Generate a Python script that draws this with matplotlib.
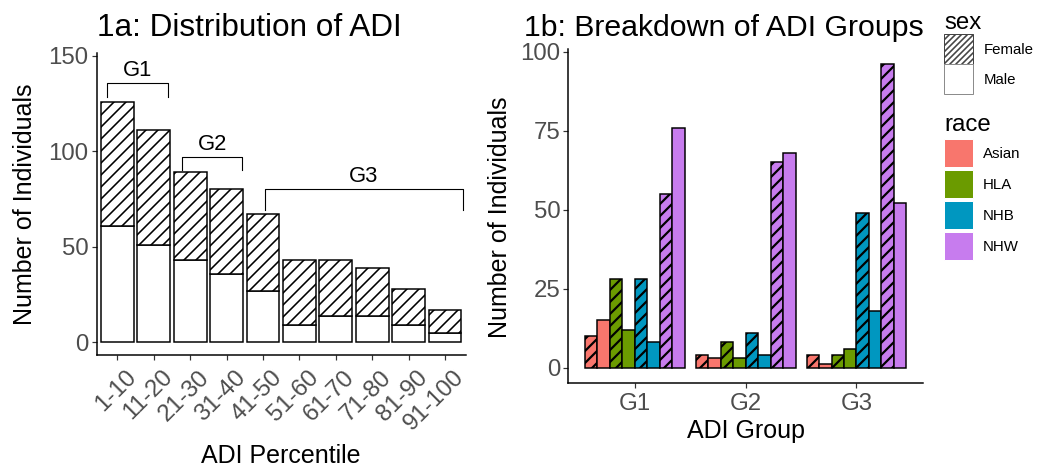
import matplotlib
matplotlib.use("Agg")
import matplotlib.pyplot as plt
from matplotlib.patches import Patch
from matplotlib.transforms import ScaledTranslation
import numpy as np

plt.rcParams['font.family'] = ['Liberation Sans', 'DejaVu Sans']
plt.rcParams['hatch.linewidth'] = 1.6

# ---- data: 1a ----
adi_bins = ['1-10', '11-20', '21-30', '31-40', '41-50',
            '51-60', '61-70', '71-80', '81-90', '91-100']
male_counts = [61, 51, 43, 36, 27, 9, 14, 14, 9, 5]
female_counts = [65, 60, 46, 44, 40, 34, 29, 25, 19, 12]

# group brackets over the bins
bracket_labels = ['G1', 'G2', 'G3']
bracket_x0 = [-0.28, 1.78, 4.05]
bracket_x1 = [1.38, 3.43, 9.50]
bracket_top = [135.5, 97.0, 80.2]
bracket_bot = [128.5, 90.2, 69.2]

# ---- data: 1b ----
groups = ['G1', 'G2', 'G3']
races = ['Asian', 'HLA', 'NHB', 'NHW']
asian_f = [10, 4, 4]
asian_m = [15, 3, 1]
hla_f = [28, 8, 4]
hla_m = [12, 3, 6]
nhb_f = [28, 11, 49]
nhb_m = [8, 4, 18]
nhw_f = [55, 65, 96]
nhw_m = [76, 68, 52]
race_colors = ['#F8766D', '#6B9B00', '#0097C0', '#C77CEE']

W, H = 1037, 470
fig = plt.figure(figsize=(W / 72, H / 72), dpi=72, facecolor='white')


def px_box(x0, y0, x1, y1):
    return [x0 / W, 1 - y1 / H, (x1 - x0) / W, (y1 - y0) / H]


def style_axes(ax):
    for s in ['top', 'right']:
        ax.spines[s].set_visible(False)
    for s in ['left', 'bottom']:
        ax.spines[s].set_linewidth(1.5)
        ax.spines[s].set_color('black')
    ax.tick_params(length=5, width=1.2, color='#333333',
                   labelcolor='#4D4D4D', labelsize=24, pad=3)


# ---------- 1a ----------
ax1 = fig.add_axes(px_box(96.7, 53, 466, 355))
x = np.arange(len(adi_bins))
with plt.rc_context({'hatch.linewidth': 1.6}):
    ax1.bar(x, male_counts, width=0.9, color='white', edgecolor='black',
            linewidth=1.5)
    ax1.bar(x, female_counts, width=0.9, bottom=male_counts, color='white',
            edgecolor='black', linewidth=1.5, hatch='//')
ax1.set_xlim(-0.57, 9.58)
ax1.set_ylim(-6.6, 151.4)
ax1.set_yticks([0, 50, 100, 150])
ax1.set_xticks(x)
ax1.set_xticklabels(adi_bins, rotation=45, ha='right', va='top',
                    rotation_mode='anchor')
style_axes(ax1)
shift = ScaledTranslation(8 / 72, -3 / 72, fig.dpi_scale_trans)
for lbl in ax1.get_xticklabels():
    lbl.set_transform(lbl.get_transform() + shift)

for lab, a, b, t, d in zip(bracket_labels, bracket_x0, bracket_x1,
                           bracket_top, bracket_bot):
    ax1.plot([a, a, b, b], [d, t, t, d], color='black', linewidth=1.1,
             clip_on=False)
    ax1.text((a + b) / 2, t + 6.5, lab, ha='center', va='center', fontsize=22)

fig.text(96.7 / W, 1 - 36 / H, '1a: Distribution of ADI', fontsize=31.5,
         ha='left', va='baseline')
fig.text(25 / W, 1 - 204 / H, 'Number of Individuals', fontsize=25,
         rotation=90, ha='center', va='center')
fig.text(281 / W, 1 - 456 / H, 'ADI Percentile', fontsize=25,
         ha='center', va='center')

# ---------- 1b ----------
ax2 = fig.add_axes(px_box(568.3, 49.2, 923, 382.7))
gx = np.arange(len(groups))
bw = 0.9 / 8
series = [(asian_f, asian_m), (hla_f, hla_m), (nhb_f, nhb_m), (nhw_f, nhw_m)]
k = 0
with plt.rc_context({'hatch.linewidth': 2.2}):
    for (fvals, mvals), col in zip(series, race_colors):
        ax2.bar(gx + (k - 3.5) * bw, fvals, width=bw, color=col,
                edgecolor='black', linewidth=1.5, hatch='//')
        ax2.bar(gx + (k + 1 - 3.5) * bw, mvals, width=bw, color=col,
                edgecolor='black', linewidth=1.5)
        k += 2
ax2.set_xlim(-0.6, 2.6)
ax2.set_ylim(-4.8, 100.8)
ax2.set_yticks([0, 25, 50, 75, 100])
ax2.set_xticks(gx)
ax2.set_xticklabels(groups)
style_axes(ax2)
ax2.tick_params(axis='x', pad=5)

fig.text(524 / W, 1 - 36 / H, '1b: Breakdown of ADI Groups', fontsize=30.2,
         ha='left', va='baseline')
fig.text(500 / W, 1 - 217 / H, 'Number of Individuals', fontsize=25,
         rotation=90, ha='center', va='center')
fig.text(745.6 / W, 1 - 431 / H, 'ADI Group', fontsize=25,
         ha='center', va='center')

# ---------- legends ----------
with plt.rc_context({'hatch.linewidth': 1.6}):
    sex_handles = [Patch(facecolor='white', edgecolor='#444444', hatch='////'),
                   Patch(facecolor='white', edgecolor='#8C8C8C')]
leg1 = fig.legend(sex_handles, ['Female', 'Male'], loc='upper left',
                  bbox_to_anchor=(944 / W, 1 - 12 / H), frameon=False,
                  fontsize=15, title='sex', title_fontsize=24,
                  alignment='left', handlelength=1.95, handleheight=2.7,
                  labelspacing=0.0, handletextpad=0.7, borderpad=0,
                  borderaxespad=0)
race_handles = [Patch(facecolor=c, edgecolor='white') for c in race_colors]
leg2 = fig.legend(race_handles, races, loc='upper left',
                  bbox_to_anchor=(944 / W, 1 - 114 / H), frameon=False,
                  fontsize=15, title='race', title_fontsize=24,
                  alignment='left', handlelength=1.9, handleheight=2.5,
                  labelspacing=0.2, handletextpad=0.7, borderpad=0,
                  borderaxespad=0)

fig.savefig('out.png', dpi=72, facecolor='white')
